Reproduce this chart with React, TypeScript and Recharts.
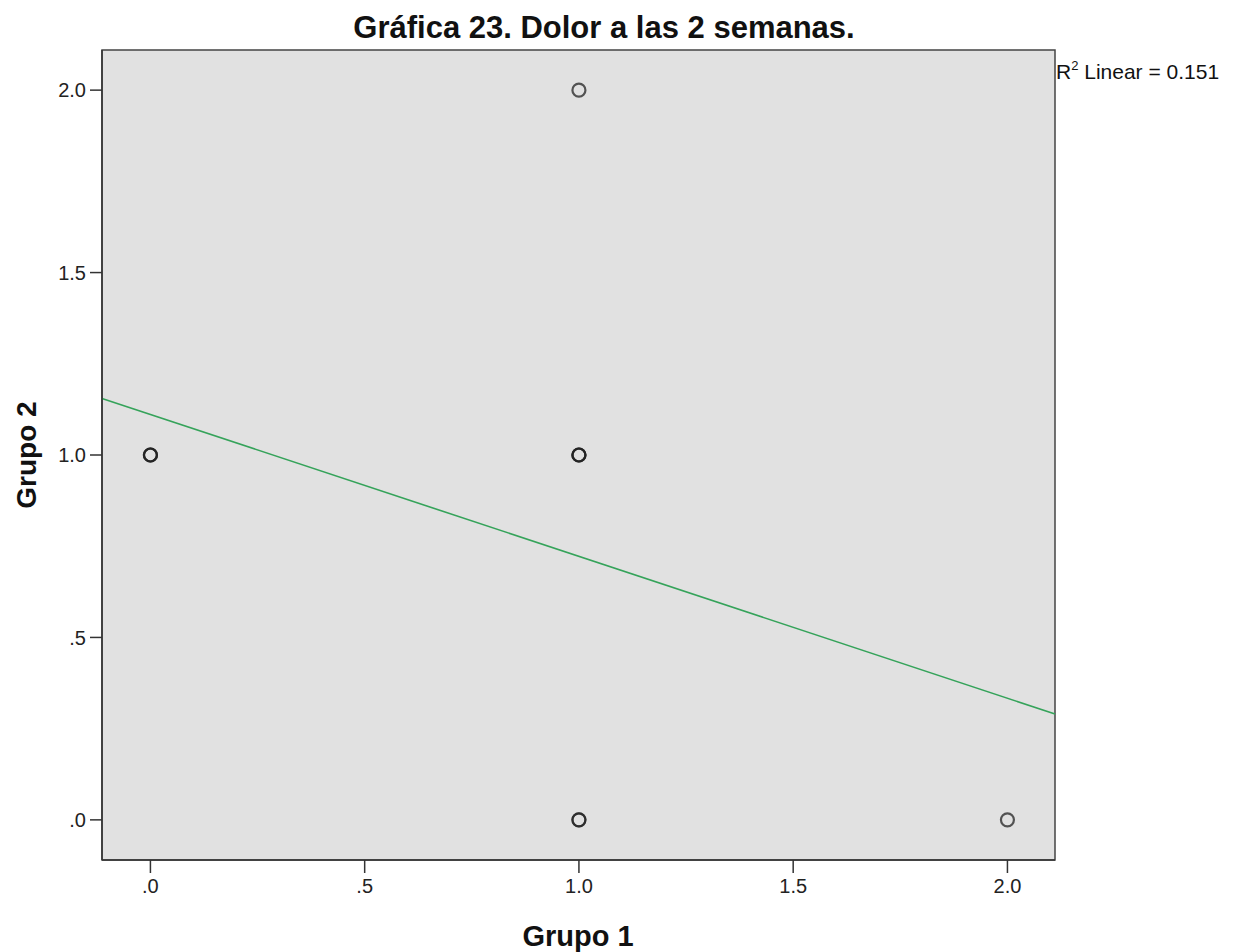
import React from "react";
import {
  ScatterChart,
  Scatter,
  XAxis,
  YAxis,
  ReferenceArea,
  ReferenceLine,
} from "recharts";

// Observations (Grupo 1, Grupo 2); repeated values overlap on the chart
const grupo1 = [0, 0, 0, 1, 1, 1, 1, 1, 1, 2];
const grupo2 = [1, 1, 1, 2, 1, 1, 1, 0, 0, 0];
const xTicks = [0, 0.5, 1, 1.5, 2];
const yTicks = [0, 0.5, 1, 1.5, 2];
const xDomain = [-0.113, 2.111];
const yDomain = [-0.11, 2.11];
const titleText = "Gráfica 23. Dolor a las 2 semanas.";
const xLabel = "Grupo 1";
const yLabel = "Grupo 2";
const r2Value = "0.151";

const points = grupo1.map((x, i) => ({ x, y: grupo2[i] }));

// least-squares fit line from the data
const n = grupo1.length;
const mx = grupo1.reduce((a, b) => a + b, 0) / n;
const my = grupo2.reduce((a, b) => a + b, 0) / n;
let sxy = 0;
let sxx = 0;
for (let i = 0; i < n; i++) {
  sxy += (grupo1[i] - mx) * (grupo2[i] - my);
  sxx += (grupo1[i] - mx) ** 2;
}
const slope = sxy / sxx;
const intercept = my - slope * mx;
const fitSegment = [
  { x: xDomain[0], y: intercept + slope * xDomain[0] },
  { x: xDomain[1], y: intercept + slope * xDomain[1] },
];

const fmt = (v: number) => {
  const s = v.toFixed(1);
  return s.startsWith("0") ? s.slice(1) : s;
};

const FONT = "'Liberation Sans', Arial, sans-serif";

const Ring = (props: any) => (
  <circle
    cx={props.cx}
    cy={props.cy}
    r={6.5}
    fill="none"
    stroke="#222"
    strokeWidth={2.2}
    strokeOpacity={0.75}
  />
);

export default function App() {
  return (
    <div
      style={{
        position: "absolute",
        left: 0,
        top: 0,
        width: 1236,
        height: 952,
        background: "#fff",
        fontFamily: FONT,
      }}
    >
      <ScatterChart
        width={1236}
        height={952}
        margin={{ top: 50, right: 181, left: 42, bottom: 42 }}
      >
        <XAxis
          type="number"
          dataKey="x"
          domain={xDomain}
          ticks={xTicks}
          allowDataOverflow
          tickFormatter={fmt}
          height={50}
          tickSize={13}
          tickMargin={6}
          axisLine={{ stroke: "#333", strokeWidth: 1.5 }}
          tickLine={{ stroke: "#333", strokeWidth: 1.5 }}
          tick={{ fontSize: 20, fill: "#222", fontFamily: FONT }}
        />
        <YAxis
          type="number"
          dataKey="y"
          domain={yDomain}
          ticks={yTicks}
          allowDataOverflow
          tickFormatter={fmt}
          width={60}
          tickSize={12}
          tickMargin={4}
          axisLine={{ stroke: "#333", strokeWidth: 1.5 }}
          tickLine={{ stroke: "#333", strokeWidth: 1.5 }}
          tick={{ fontSize: 20, fill: "#222", fontFamily: FONT }}
        />
        <ReferenceArea
          x1={xDomain[0]}
          x2={xDomain[1]}
          y1={yDomain[0]}
          y2={yDomain[1]}
          fill="#e1e1e1"
          fillOpacity={1}
          stroke="#444"
          strokeWidth={1.5}
        />
        <ReferenceLine
          segment={fitSegment}
          stroke="#35a35a"
          strokeWidth={1.6}
        />
        <Scatter
          data={points}
          shape={Ring}
          isAnimationActive={false}
        />
      </ScatterChart>

      <div
        style={{
          position: "absolute",
          left: 0,
          width: 1208,
          top: 10,
          textAlign: "center",
          fontWeight: "bold",
          fontSize: 31,
          color: "#111",
          whiteSpace: "nowrap",
        }}
      >
        {titleText}
      </div>

      <div
        style={{
          position: "absolute",
          left: 1056,
          top: 58,
          fontSize: 21,
          color: "#111",
          whiteSpace: "nowrap",
        }}
      >
        R<sup style={{ fontSize: 13, verticalAlign: "9px" }}>2</sup> Linear ={" "}
        {r2Value}
      </div>

      <div
        style={{
          position: "absolute",
          left: 478,
          width: 200,
          top: 920,
          textAlign: "center",
          fontWeight: "bold",
          fontSize: 29,
          color: "#111",
        }}
      >
        {xLabel}
      </div>

      <div
        style={{
          position: "absolute",
          left: 27 - 100,
          top: 455 - 17,
          width: 200,
          height: 34,
          lineHeight: "34px",
          textAlign: "center",
          fontWeight: "bold",
          fontSize: 28,
          color: "#111",
          transform: "rotate(-90deg)",
        }}
      >
        {yLabel}
      </div>
    </div>
  );
}
